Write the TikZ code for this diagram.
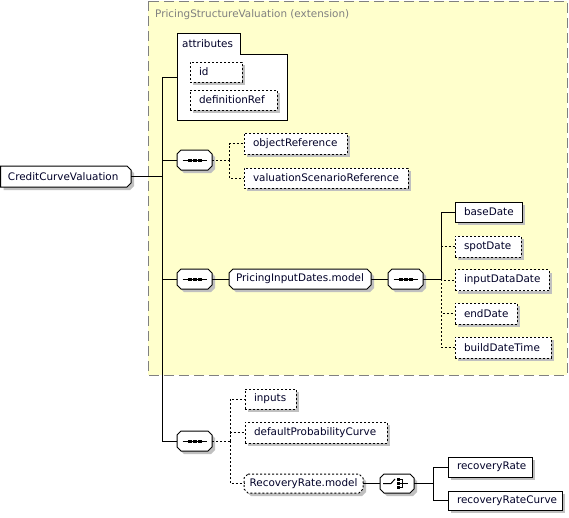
\documentclass[tikz,border=0pt]{standalone}
\usepackage{fontspec}
\setmainfont{DejaVu Sans}
\usetikzlibrary{shadows,calc}
\definecolor{shadowgray}{RGB}{192,192,192}
\definecolor{extfill}{RGB}{255,255,204}
\definecolor{extborder}{RGB}{128,128,128}
\definecolor{txtcol}{RGB}{0,0,40}
\newcommand{\lblfont}{\fontsize{10.4}{12}\selectfont}
\newcommand{\lt}[2]{\makebox[#1pt][l]{#2}}
% octagon outline with shadow: [opts]{x}{y}{w}{h}{c}
\newcommand{\octshape}[6][]{%
  \pgfmathsetmacro\oxl{#2-#4/2}\pgfmathsetmacro\oxr{#2+#4/2}%
  \pgfmathsetmacro\oyt{#3-#5/2}\pgfmathsetmacro\oyb{#3+#5/2}%
  \fill[shadowgray] (\oxl+#6+3,\oyt+3) -- (\oxr-#6+3,\oyt+3) -- (\oxr+3,\oyt+#6+3) -- (\oxr+3,\oyb-#6+3) -- (\oxr-#6+3,\oyb+3) -- (\oxl+#6+3,\oyb+3) -- (\oxl+3,\oyb-#6+3) -- (\oxl+3,\oyt+#6+3) -- cycle;
  \draw[line width=1pt,fill=white,#1] (\oxl+#6,\oyt) -- (\oxr-#6,\oyt) -- (\oxr,\oyt+#6) -- (\oxr,\oyb-#6) -- (\oxr-#6,\oyb) -- (\oxl+#6,\oyb) -- (\oxl,\oyb-#6) -- (\oxl,\oyt+#6) -- cycle;
}
\newcommand{\seqsym}[1]{%
  \draw[line width=1pt] ($(#1.center)+(-12,0)$) -- ($(#1.center)+(12,0)$);
  \foreach \dx in {-5,0,5}{\fill ($(#1.center)+(\dx-2,-1.5)$) rectangle ++(4,3);}
}
\newcommand{\chsym}[1]{%
  \draw[line width=1pt] ($(#1.center)+(-14,0)$) -- ($(#1.center)+(-6,0)$) -- ($(#1.center)+(-2,-4.5)$);
  \foreach \dy in {-4,0,4}{\fill ($(#1.center)+(0,\dy-1.3)$) rectangle ++(2.6,2.6);
    \draw[line width=0.8pt] ($(#1.center)+(2.6,\dy)$) -- ($(#1.center)+(5.5,\dy)$);}
  \draw[line width=1pt] ($(#1.center)+(5.5,-4.5)$) -- ($(#1.center)+(5.5,4.5)$);
  \draw[line width=1pt] ($(#1.center)+(5.5,0)$) -- ($(#1.center)+(11,0)$);
}
\tikzset{
  shadowed/.style={drop shadow={shadow xshift=3pt,shadow yshift=-3pt,fill=shadowgray,opacity=1}},
  elem/.style={rectangle,draw=black,fill=white,line width=1pt,shadowed,inner xsep=9pt,inner ysep=0pt,text=txtcol,font=\lblfont},
  optelem/.style={elem,dash pattern=on 2pt off 2pt},
  bare/.style={rectangle,inner sep=0pt,text=txtcol,font=\lblfont},
  conn/.style={line width=1pt,draw=black},
  optconn/.style={conn,dash pattern=on 2pt off 2pt},
}
\begin{document}
\begin{tikzpicture}[x=1pt,y=-1pt]
\useasboundingbox (0,0) rectangle (569,517);
% extension area
\draw[fill=extfill,draw=extborder,line width=1pt,dash pattern=on 10pt off 5pt] (148,1) rectangle (567,375);
\node[anchor=west,text=extborder,font=\lblfont,inner sep=0pt] (exttitle) at (155,14.5) {PricingStructureValuation (extension)};

% attributes
\draw[fill=white,line width=1pt] (177,33) -- (240,33) -- (240,54) -- (287,54) -- (287,120) -- (177,120) -- cycle;
\node[anchor=west,text=txtcol,font=\lblfont,inner sep=0pt] (attrlbl) at (182,43.5) {attributes};
\coordinate (attrL) at (177,77);
\node[optelem,minimum height=20pt] (id) at (216,72) {\lt{34}{id}};
\node[optelem,minimum height=20pt] (defref) at (233.5,100) {\lt{69}{definitionRef}};

% root element (right corners chamfered)
\fill[shadowgray] (3.5,169) -- (130,169) -- (134,173) -- (134,186) -- (130,190) -- (3.5,190) -- cycle;
\draw[line width=1pt,fill=white] (0.5,166) -- (127,166) -- (131,170) -- (131,183) -- (127,187) -- (0.5,187) -- cycle;
\node[bare,inner xsep=7.5pt,minimum height=21pt] (root) at (65.75,176.5) {\lt{115.5}{CreditCurveValuation}};

% compositors and groups
\octshape{194.5}{160}{35}{20}{4}
\node[bare,minimum width=35pt,minimum height=20pt] (seq1) at (194.5,160) {};
\seqsym{seq1}
\octshape{194.5}{279}{35}{20}{4}
\node[bare,minimum width=35pt,minimum height=20pt] (seq2) at (194.5,279) {};
\seqsym{seq2}
\octshape{300}{279}{142}{20}{4}
\node[bare,minimum width=142pt,minimum height=20pt] (pid) at (300,279) {PricingInputDates.model};
\octshape{405.5}{279}{35}{20}{4}
\node[bare,minimum width=35pt,minimum height=20pt] (seq3) at (405.5,279) {};
\seqsym{seq3}
\octshape{194.5}{441}{35}{20}{4}
\node[bare,minimum width=35pt,minimum height=20pt] (seq4) at (194.5,441) {};
\seqsym{seq4}
\octshape[dash pattern=on 2pt off 2pt]{303.5}{483.5}{119}{19}{4}
\node[bare,minimum width=119pt,minimum height=19pt] (rrm) at (303.5,483.5) {RecoveryRate.model};
\octshape{397}{483.5}{34}{19}{4}
\node[bare,minimum width=34pt,minimum height=19pt] (choice) at (397,483.5) {};
\chsym{choice}

% elements
\node[optelem,minimum height=21pt] (objref) at (295.5,143.5) {\lt{85}{objectReference}};
\node[optelem,minimum height=20pt] (valref) at (326,178) {\lt{146}{valuationScenarioReference}};
\node[elem,minimum height=20pt] (basedate) at (488.5,212) {\lt{49}{baseDate}};
\node[optelem,minimum height=21pt] (spotdate) at (488,246.5) {\lt{48}{spotDate}};
\node[optelem,minimum height=21pt] (inputdate) at (502,280) {\lt{76}{inputDataDate}};
\node[optelem,minimum height=21pt] (enddate) at (486,313.5) {\lt{44}{endDate}};
\node[optelem,minimum height=21pt] (builddt) at (503,347.5) {\lt{78}{buildDateTime}};
\node[optelem,minimum height=20pt] (inputs) at (270.5,399) {\lt{33}{inputs}};
\node[optelem,minimum height=21pt] (dpc) at (316,432.5) {\lt{124}{defaultProbabilityCurve}};
\node[elem,minimum height=20pt] (rrate) at (490,467) {\lt{66}{recoveryRate}};
\node[elem,minimum height=19pt] (rrcurve) at (505,500.5) {\lt{96}{recoveryRateCurve}};

% main trunk
\coordinate (ja) at (162,77);
\coordinate (jd) at (162,441);
\draw[conn] (root.east) -- (ja |- root.east);
\draw[conn] (ja) -- (jd) -- (seq4.west);
\draw[conn] (ja) -- (attrL);
\draw[conn] (ja |- seq1.west) -- (seq1.west);
\draw[conn] (ja |- seq2.west) -- (seq2.west);

% branch 1
\coordinate (b1) at (229,160);
\draw[optconn] (seq1.east) -- (b1);
\draw[optconn] (b1) |- (objref.west);
\draw[optconn] (b1) |- (valref.west);

% branch 2
\draw[conn] (seq2.east) -- (pid.west);
\draw[conn] (pid.east) -- (seq3.west);
\coordinate (b3) at (441,279);
\draw[conn] (seq3.east) -- (b3);
\draw[conn] (b3) |- (basedate.west);
\draw[optconn] (b3) |- (spotdate.west);
\draw[optconn] (b3) |- (inputdate.west);
\draw[optconn] (b3) |- (enddate.west);
\draw[optconn] (b3) |- (builddt.west);

% branch 4
\coordinate (b4) at (230,441);
\draw[optconn] (seq4.east) -- (b4);
\draw[optconn] (b4) |- (inputs.west);
\draw[optconn] (b4) |- (dpc.west);
\draw[optconn] (b4) |- (rrm.west);
\draw[conn] (rrm.east) -- (choice.west);
\coordinate (b5) at (433,483.5);
\draw[conn] (choice.east) -- (b5);
\draw[conn] (b5) |- (rrate.west);
\draw[conn] (b5) |- (rrcurve.west);
\end{tikzpicture}
\end{document}
